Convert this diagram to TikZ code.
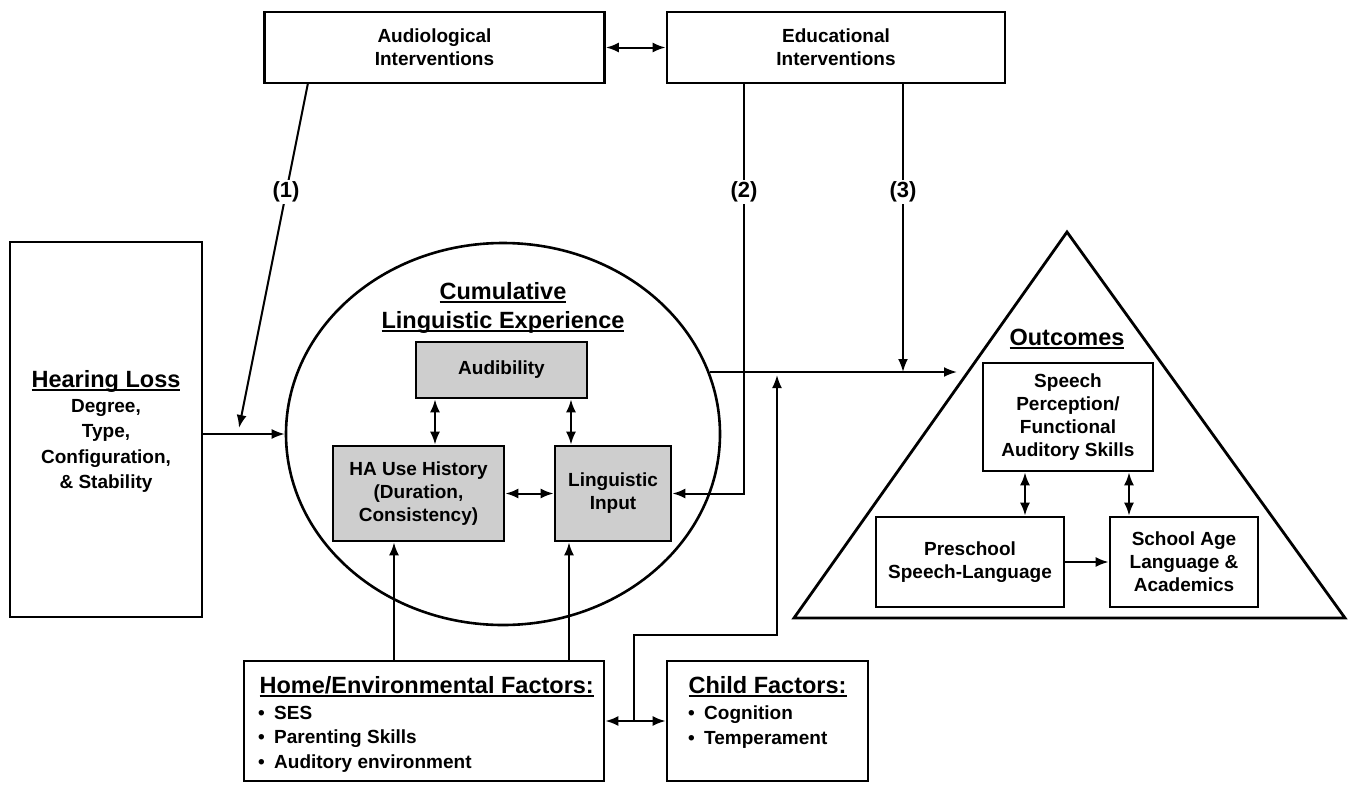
\documentclass[tikz,border=0pt]{standalone}
\usepackage{fontspec}
\setmainfont{Liberation Sans}
\usetikzlibrary{arrows.meta,shapes.geometric}
\definecolor{boxgray}{RGB}{206,206,206}
\newcommand{\myul}[1]{\setbox0\hbox{#1}\leavevmode\rlap{\raisebox{-3.5pt}{\rule{\wd0}{1.8pt}}}\box0}
\newcommand{\bul}{\makebox[16pt][l]{\textbullet}}
\begin{document}
\begin{tikzpicture}[x=1pt,y=-1pt,
  rbox/.style={draw, line width=2.8pt, inner sep=0pt},
  gbox/.style={rbox, fill=boxgray},
  txt/.style={font=\fontsize{19}{23}\selectfont\bfseries, align=center},
  hd/.style={font=\fontsize{23.5}{29}\selectfont\bfseries, align=center},
  lab/.style={font=\fontsize{22}{24}\selectfont\bfseries, fill=white, inner sep=2pt},
  conn/.style={line width=2pt, -{Latex[length=13pt,width=10pt]}},
  dconn/.style={line width=2pt, {Latex[length=13pt,width=10pt]}-{Latex[length=13pt,width=10pt]}},
  plain/.style={line width=2pt}]
\useasboundingbox (0,0) rectangle (1355,785);

% top boxes
\node[rbox, txt, minimum width=340, minimum height=71] (aud) at (434.5,47.5) {Audiological\\Interventions};
\node[rbox, txt, minimum width=338, minimum height=71] (edu) at (836,47.5) {Educational\\Interventions};

% hearing loss
\node[rbox, minimum width=192, minimum height=375] (hl) at (106,429.5) {};
\node[hd] (hlh) at (106,381) {\myul{Hearing Loss}};
\node[txt, font=\fontsize{19}{25.3}\selectfont\bfseries] (hlt) at (106,446) {Degree,\\Type,\\Configuration,\\\& Stability};

% ellipse
\node[draw, ellipse, line width=2.6pt, minimum width=434, minimum height=382, inner sep=0pt] (cle) at (503,434) {};
\node[hd] (cleh) at (503,307.5) {\myul{Cumulative}\\\myul{Linguistic Experience}};
\node[gbox, txt, minimum width=171, minimum height=56] (aub) at (501.5,370) {Audibility};
\node[gbox, txt, minimum width=171, minimum height=95] (ha) at (418.5,493.5) {HA Use History\\(Duration,\\Consistency)};
\node[gbox, txt, minimum width=116, minimum height=95] (li) at (613,493.5) {Linguistic\\Input};

% triangle
\coordinate (tA) at (1067,232);
\coordinate (tB) at (794,618);
\coordinate (tC) at (1345,618);
\draw[line width=2.8pt, line join=miter] (tA) -- (tB) -- (tC) -- cycle;
\node[hd] (outh) at (1067,339) {\myul{Outcomes}};
\node[rbox, txt, minimum width=170, minimum height=108] (sp) at (1068,417) {Speech\\Perception/\\Functional\\Auditory Skills};
\node[rbox, txt, minimum width=188, minimum height=90] (pre) at (970,562) {Preschool\\Speech-Language};
\node[rbox, txt, minimum width=148, minimum height=90] (sch) at (1184,562) {School Age\\Language \&\\Academics};

% bottom boxes
\node[rbox, minimum width=360, minimum height=120] (home) at (424,721) {};
\node[hd, anchor=west] (homeh) at (256,687) {\myul{Home/Environmental Factors:}};
\node[anchor=north west, align=left, font=\fontsize{19}{24.5}\selectfont\bfseries, inner sep=0pt] (homet) at (258,706) {\bul SES\\\bul Parenting Skills\\\bul Auditory environment};
\node[rbox, minimum width=201, minimum height=120] (child) at (767.5,721) {};
\node[hd, anchor=west] (childh) at (685,687) {\myul{Child Factors:}};
\node[anchor=north west, align=left, font=\fontsize{19}{24.5}\selectfont\bfseries, inner sep=0pt] (childt) at (688,706) {\bul Cognition\\\bul Temperament};

% coordinates
\coordinate (c1s) at (308,83);
\coordinate (c1e) at (239,428);
\coordinate (c2) at (744,192);
\coordinate (c3) at (903,192);
\coordinate (c3e) at (903,372);
\coordinate (ellR) at (710,372);
\coordinate (outL) at (957,372);
\coordinate (x435) at (435,0);
\coordinate (x571) at (571,0);
\coordinate (x394) at (394,0);
\coordinate (x569) at (569,0);
\coordinate (jn) at (634,721);
\coordinate (jt) at (634,635);
\coordinate (ju) at (777,635);
\coordinate (jue) at (777,375);
\coordinate (x1025) at (1025,0);
\coordinate (x1129) at (1129,0);

% connectors
\draw[dconn] (aud.east) -- (edu.west);
\draw[conn] (c1s) -- (c1e);
\draw[conn] (hl.east |- cle.west) -- (cle.west);
\draw[conn] (edu.south -| c2) -- (c2 |- li.east) -- (li.east);
\draw[conn] (edu.south -| c3) -- (c3e);
\draw[conn] (ellR) -- (outL);
\draw[dconn] (aub.south -| x435) -- (ha.north -| x435);
\draw[dconn] (aub.south -| x571) -- (li.north -| x571);
\draw[dconn] (ha.east) -- (li.west);
\draw[conn] (home.north -| x394) -- (ha.south -| x394);
\draw[conn] (home.north -| x569) -- (li.south -| x569);
\draw[dconn] (home.east) -- (child.west);
\draw[conn] (jn) -- (jt) -- (ju) -- (jue);
\draw[dconn] (sp.south -| x1025) -- (pre.north -| x1025);
\draw[dconn] (sp.south -| x1129) -- (sch.north -| x1129);
\draw[conn] (pre.east) -- (sch.west);

% labels
\node[lab] (l1) at (286,192) {(1)};
\node[lab] (l2) at (c2) {(2)};
\node[lab] (l3) at (c3) {(3)};
\end{tikzpicture}
\end{document}
